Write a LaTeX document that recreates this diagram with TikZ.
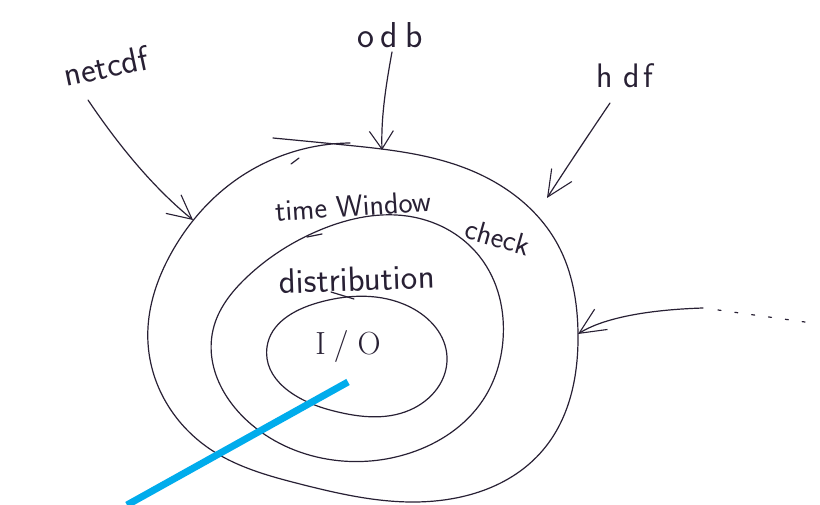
\documentclass[tikz,border=0pt]{standalone}
\usepackage{fontspec}
\usetikzlibrary{arrows.meta,hobby}
\definecolor{pen}{RGB}{40,32,52}
\definecolor{marker}{RGB}{0,172,236}
\tikzset{
  ink/.style={draw=pen, line width=1.2pt, line cap=round, line join=round},
  hand/.style={text=pen, inner sep=0pt, font=\sffamily},
  barb/.style={ink, -{Straight Barb[length=#1, width=24pt, line width=1.1pt]}},
}
\newcommand{\fs}[1]{\fontsize{#1}{#1}\selectfont}
\begin{document}
\begin{tikzpicture}[x=1pt, y=-1pt]
  \fill[white] (0,0) rectangle (820,505);
  \useasboundingbox (0,0) rectangle (820,505);

  % outer ring, drawn in one stroke that overshoots where it closes
  \draw[ink, use Hobby shortcut] (273,138) .. (345,145) .. (477,173) .. (558,245)
    .. (578,333) .. (543,450) .. (410,502) .. (300,484) .. (207,447)
    .. (148,343) .. (173,250) .. (233,182) .. (350,143);
  \draw[ink] (299,158) -- (291,164);

  % middle ring
  \draw[ink, use Hobby shortcut, closed=true] (320,230) .. (413,217) .. (480,257)
    .. (503,340) .. (483,400) .. (410,453) .. (333,460) .. (252,425)
    .. (213,330) .. (247,277);
  \draw[ink] (307,237) -- (322,234);

  % inner ring
  \draw[ink, use Hobby shortcut, closed=true] (317,303) .. (410,307) .. (447,357)
    .. (410,410) .. (330,410) .. (267,347);
  \draw[ink] (331,292) -- (354,299);

  % labels
  \node[hand, rotate=12] (nc) at (106,66) {\fs{35}netcdf};
  \node[hand] (odb) at (390,35) {\fs{36}o\hspace{6pt}d\hspace{8pt}b};
  \node[hand] (hdf) at (625,76) {\fs{34}h\hspace{10pt}d\hspace{4pt}f};
  \node[hand, rotate=4] (tw) at (353,206) {\fs{30}time Window};
  \node[hand, rotate=-16] (chk) at (498,237) {\fs{30}check};
  \node[hand, rotate=2] (dist) at (357,279) {\fs{35}distribution};
  \node[hand, font=\rmfamily] (io) at (348,347) {\fs{32}I\hspace{8pt}/\hspace{9pt}O};

  % arrow ends on the outer ring
  \coordinate (ncTail) at (88,100);
  \coordinate (ncTip) at (193,220);
  \coordinate (odbTail) at (392,52);
  \coordinate (odbTip) at (382,150);
  \coordinate (hdfTail) at (610,103);
  \coordinate (hdfTip) at (547,198);
  \coordinate (more) at (703,308);
  \coordinate (moreTip) at (578,334);
  \coordinate (moreEnd) at (805,322);

  % incoming arrows
  \draw[barb=24pt] (ncTail) .. controls (115,140) and (150,185) .. (ncTip);
  \draw[barb=18pt] (odbTail) .. controls (385,90) and (381,120) .. (odbTip);
  \draw[barb=26pt] (hdfTail) .. controls (585,140) and (565,170) .. (hdfTip);
  \draw[barb=26pt] (more) .. controls (640,310) and (600,320) .. (moreTip);
  \draw[ink, dash pattern=on 3pt off 14pt] (718,310) -- (moreEnd);

  % marker stroke
  \draw[marker, line width=7pt] (348,382) -- (127,505);
\end{tikzpicture}
\end{document}
